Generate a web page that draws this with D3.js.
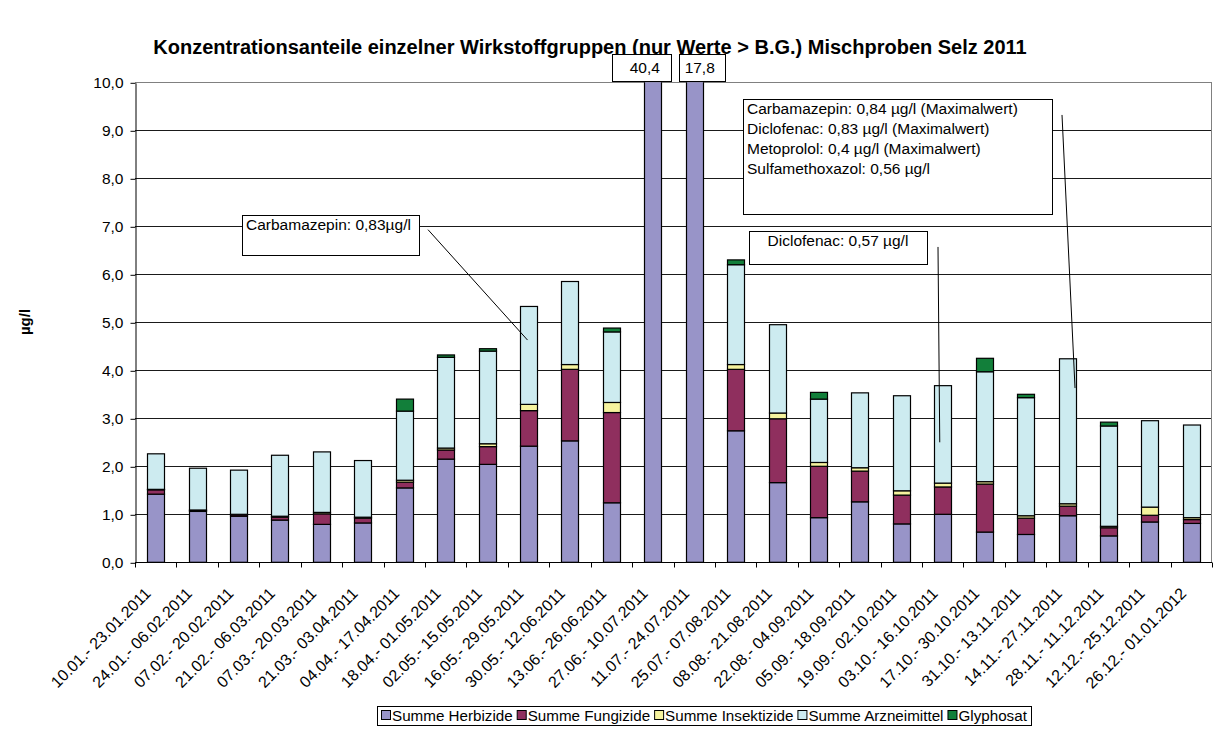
<!DOCTYPE html>
<html>
<head>
<meta charset="utf-8">
<script src="https://cdn.jsdelivr.net/npm/d3@7"></script>
<style>
  body { margin: 0; background: #fff; }
  svg { font-family: "Liberation Sans", Arial, sans-serif; }
</style>
</head>
<body>
<div id="chart-area"></div>
<script>
// Mischproben Selz 2011 - stacked bars
const categories = ["10.01.- 23.01.2011", "24.01.- 06.02.2011", "07.02.- 20.02.2011", "21.02.- 06.03.2011",
  "07.03.- 20.03.2011", "21.03.- 03.04.2011", "04.04.- 17.04.2011", "18.04.- 01.05.2011",
  "02.05.- 15.05.2011", "16.05.- 29.05.2011", "30.05.- 12.06.2011", "13.06.- 26.06.2011",
  "27.06.- 10.07.2011", "11.07.- 24.07.2011", "25.07.- 07.08.2011", "08.08.- 21.08.2011",
  "22.08.- 04.09.2011", "05.09.- 18.09.2011", "19.09.- 02.10.2011", "03.10.- 16.10.2011",
  "17.10.- 30.10.2011", "31.10.- 13.11.2011", "14.11.- 27.11.2011", "28.11.- 11.12.2011",
  "12.12.- 25.12.2011", "26.12.- 01.01.2012"]
const herbizide   = [1.42, 1.06, 0.96, 0.88, 0.79, 0.82, 1.55, 2.15, 2.04, 2.42, 2.53, 1.24, 40.4, 17.8, 2.74, 1.66, 0.93, 1.26, 0.80, 1.00, 0.63, 0.58, 0.97, 0.55, 0.84, 0.81]
const fungizide   = [0.09, 0.02, 0.03, 0.06, 0.22, 0.10, 0.12, 0.19, 0.37, 0.74, 1.49, 1.88, 0, 0, 1.28, 1.33, 1.07, 0.64, 0.60, 0.57, 1.00, 0.34, 0.20, 0.17, 0.14, 0.08]
const insektizide = [0.01, 0.01, 0.01, 0.02, 0.03, 0.02, 0.04, 0.04, 0.06, 0.13, 0.10, 0.21, 0, 0, 0.10, 0.12, 0.08, 0.07, 0.09, 0.08, 0.05, 0.05, 0.05, 0.03, 0.17, 0.04]
const arzneimittel = [0.74, 0.87, 0.92, 1.27, 1.26, 1.18, 1.44, 1.89, 1.93, 2.04, 1.73, 1.47, 0, 0, 2.08, 1.84, 1.32, 1.56, 1.98, 2.03, 2.29, 2.46, 3.02, 2.09, 1.80, 1.93]
const glyphosat   = [0, 0, 0, 0, 0, 0, 0.25, 0.05, 0.05, 0, 0, 0.08, 0, 0, 0.10, 0, 0.14, 0, 0, 0, 0.28, 0.07, 0, 0.08, 0, 0]
const seriesNames = ["Summe Herbizide", "Summe Fungizide", "Summe Insektizide", "Summe Arzneimittel", "Glyphosat"]
const colors = ["#9894C8", "#8F2F5E", "#F6F39E", "#CDEBF0", "#127F3A"]
const yTicks = [0, 1, 2, 3, 4, 5, 6, 7, 8, 9, 10]

// notes drawn over the chart
const offScale = [{ cat: 12, text: "40,4", left: -41, right: 18, tx: -8 }, { cat: 13, text: "17,8", left: -15, right: 31, tx: 5.5 }]
const notes = [
  { lines: ["Carbamazepin: 0,83µg/l"], box: [242, 215, 177, 40], from: [428, 6.93], cat: 9, to: 4.63, dx: -1 },
  { lines: ["Diclofenac: 0,57 µg/l"], box: [749, 231, 178, 33], center: true, from: [938, 6.57], cat: 19, to: 2.5, dx: -3 },
  { lines: ["Carbamazepin: 0,84 µg/l (Maximalwert)", "Diclofenac: 0,83 µg/l (Maximalwert)",
            "Metoprolol: 0,4 µg/l (Maximalwert)", "Sulfamethoxazol: 0,56 µg/l"],
    box: [743, 99, 309, 115], from: [1062, 9.32], cat: 22, to: 3.63, dx: 8 }
]

const MARGIN = { LEFT: 135, RIGHT: 1, TOP: 82, BOTTOM: 173 }
const W = 1213, H = 735

const rows = categories.map((c, i) => ({
  cat: c,
  [seriesNames[0]]: herbizide[i],
  [seriesNames[1]]: fungizide[i],
  [seriesNames[2]]: insektizide[i],
  [seriesNames[3]]: arzneimittel[i],
  [seriesNames[4]]: glyphosat[i]
}))
const stacked = d3.stack().keys(seriesNames)(rows)

const svg = d3.select('#chart-area')
  .append('svg')
  .attr('width', W)
  .attr('height', H)

const x = d3.scaleBand()
  .domain(categories)
  .range([MARGIN.LEFT, W - MARGIN.RIGHT])
  .paddingInner(0.59)
  .paddingOuter(0.295)

const y = d3.scaleLinear()
  .domain([0, 10])
  .range([H - MARGIN.BOTTOM + 0.3, MARGIN.TOP + 0.3])

// title
svg.append('text')
  .attr('x', 590).attr('y', 54)
  .attr('text-anchor', 'middle')
  .attr('font-size', 20).attr('font-weight', 'bold')
  .text("Konzentrationsanteile einzelner Wirkstoffgruppen (nur Werte > B.G.) Mischproben Selz 2011")

// y label
svg.append('text')
  .attr('transform', `translate(30, 322) rotate(-90)`)
  .attr('text-anchor', 'middle')
  .attr('font-size', 15).attr('font-weight', 'bold')
  .text("µg/l")

// grid
svg.append('g')
  .selectAll('line')
  .data(yTicks)
  .enter()
  .append('line')
  .attr('x1', MARGIN.LEFT).attr('x2', W - MARGIN.RIGHT)
  .attr('y1', d => Math.round(y(d)) + 0.5).attr('y2', d => Math.round(y(d)) + 0.5)
  .attr('stroke', d => d === 10 ? '#808080' : '#1a1a1a')

svg.append('line')
  .attr('x1', W - MARGIN.RIGHT - 0.5).attr('x2', W - MARGIN.RIGHT - 0.5)
  .attr('y1', y(10)).attr('y2', y(0))
  .attr('stroke', '#808080')

svg.append('clipPath').attr('id', 'clip')
  .append('rect')
  .attr('x', 0).attr('y', y(10))
  .attr('width', W).attr('height', y(0) - y(10))

// bars
svg.append('g')
  .attr('clip-path', 'url(#clip)')
  .selectAll('g')
  .data(stacked)
  .enter()
  .append('g')
  .attr('fill', (d, i) => colors[i])
  .selectAll('rect')
  .data(d => d.filter(s => s[1] - s[0] > 0))
  .enter()
  .append('rect')
  .attr('x', d => Math.round(x(d.data.cat)) + 0.5)
  .attr('width', Math.round(x.bandwidth()))
  .attr('y', d => y(d[1]))
  .attr('height', d => y(d[0]) - y(d[1]))
  .attr('stroke', '#000')
  .attr('stroke-width', 1.2)

// y axis
const yAxis = svg.append('g')
  .attr('transform', `translate(${MARGIN.LEFT + 0.5}, 0.5)`)
  .call(d3.axisLeft(y).tickValues(yTicks).tickSize(5).tickSizeOuter(0)
    .tickFormat(d => d3.format('.1f')(d).replace('.', ',')))
yAxis.selectAll('text').attr('font-size', 15.5).attr('fill', '#000').attr('x', -12)
yAxis.selectAll('line, path').attr('stroke', '#000')

// x axis
const step = x.step()
const xAxis = svg.append('g')
  .attr('transform', `translate(0, ${Math.round(y(0)) + 0.5})`)
xAxis.append('line')
  .attr('x1', MARGIN.LEFT).attr('x2', W - MARGIN.RIGHT)
  .attr('stroke', '#000')
xAxis.selectAll('.tk')
  .data(d3.range(categories.length + 1))
  .enter()
  .append('line')
  .attr('x1', i => Math.round(MARGIN.LEFT + i * step) + 0.5)
  .attr('x2', i => Math.round(MARGIN.LEFT + i * step) + 0.5)
  .attr('y1', 0).attr('y2', 5)
  .attr('stroke', '#000')
xAxis.selectAll('.lbl')
  .data(categories)
  .enter()
  .append('text')
  .attr('transform', d => `translate(${x(d) + x.bandwidth() / 2 - 4}, 32) rotate(-45)`)
  .attr('text-anchor', 'end')
  .attr('font-size', 16)
  .text(d => d)

// off-scale value boxes
offScale.forEach(o => {
  const cx = x(categories[o.cat]) + x.bandwidth() / 2
  svg.append('rect')
    .attr('x', Math.round(cx + o.left) + 0.5)
    .attr('y', 54.5)
    .attr('width', o.right - o.left)
    .attr('height', 27)
    .attr('fill', '#fff').attr('stroke', '#000')
  svg.append('text')
    .attr('x', cx + o.tx).attr('y', 72.5)
    .attr('text-anchor', 'middle')
    .attr('font-size', 15.5)
    .text(o.text)
})

// annotation boxes and leader lines
notes.forEach(n => {
  const cx = x(categories[n.cat]) + x.bandwidth() / 2
  svg.append('line')
    .attr('x1', n.from[0]).attr('y1', y(n.from[1]))
    .attr('x2', cx + n.dx).attr('y2', y(n.to))
    .attr('stroke', '#000')
  const [bx, by, bw, bh] = n.box
  svg.append('rect')
    .attr('x', bx + 0.5).attr('y', by + 0.5)
    .attr('width', bw).attr('height', bh)
    .attr('fill', '#fff').attr('stroke', '#000')
  n.lines.forEach((l, i) => {
    svg.append('text')
      .attr('x', n.center ? bx + bw / 2 : bx + 4)
      .attr('y', by + 15 + i * 20)
      .attr('text-anchor', n.center ? 'middle' : 'start')
      .attr('font-size', 15.5)
      .text(l)
  })
})

// legend
const legend = svg.append('g')
let lx = 381
const ly = 716
seriesNames.forEach((s, i) => {
  legend.append('rect')
    .attr('x', lx + 0.5).attr('y', ly - 5.5)
    .attr('width', 9).attr('height', 9)
    .attr('fill', colors[i]).attr('stroke', '#000')
  const t = legend.append('text')
    .attr('x', lx + 11).attr('y', ly + 5)
    .attr('font-size', 15.2)
    .text(s)
  lx += 11 + t.node().getComputedTextLength() + 4
})
legend.insert('rect', 'rect')
  .attr('x', 377.5).attr('y', 706.5)
  .attr('width', Math.round(lx - 377)).attr('height', 19)
  .attr('fill', '#fff').attr('stroke', '#000')
</script>
</body>
</html>
